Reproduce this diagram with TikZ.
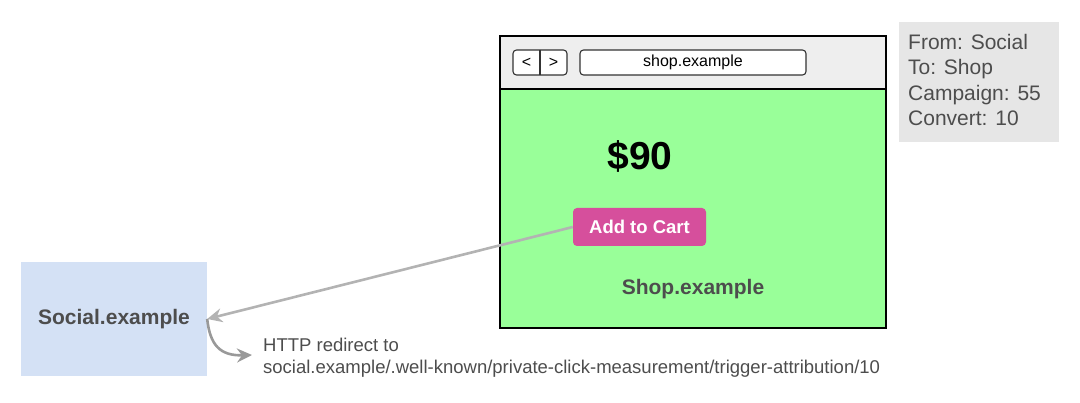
\documentclass[tikz,border=0pt]{standalone}
\usepackage{fontspec}
\setmainfont{Liberation Sans}
\usetikzlibrary{arrows.meta}
\definecolor{txtgrey}{HTML}{4D4D4D}
\definecolor{barfill}{HTML}{EEEEEE}
\definecolor{pagegreen}{HTML}{99FF99}
\definecolor{cartpink}{HTML}{D64F9C}
\definecolor{infogrey}{HTML}{E6E6E6}
\definecolor{socialblue}{HTML}{D4E1F5}
\definecolor{arrowgrey}{HTML}{B3B3B3}
\definecolor{curvegrey}{HTML}{999999}
\begin{document}
\begin{tikzpicture}[x=1pt,y=-1pt,
  boxline/.style={draw=black,line width=1.3pt},
  btn/.style={draw=black!80,line width=1.1pt,rounded corners=3.5pt,fill=white},
  lbl/.style={text=txtgrey,font=\fontsize{21}{25.5}\selectfont\bfseries},
  conn/.style={draw=arrowgrey,line width=2.6pt,-{Stealth[length=15pt,width=14pt,inset=5pt]}},
  curve/.style={draw=curvegrey,line width=2.6pt,-{Stealth[length=15pt,width=14pt,inset=5pt]}}]
\useasboundingbox (0,0) rectangle (1080,403);
% browser window
\fill[barfill] (500,36) rectangle (886,89);
\fill[pagegreen] (500,89) rectangle (886,328);
\draw[boxline] (500,36) rectangle (886,328);
\draw[boxline] (500,89) -- (886,89);
% back / forward buttons
\draw[btn] (513,50) rectangle (567,75);
\draw[draw=black!80,line width=1.1pt] (540,50) -- (540,75);
\node[font=\fontsize{16}{19}\selectfont] (back) at (526.5,62.5) {<};
\node[font=\fontsize{16}{19}\selectfont] (fwd) at (553.5,62.5) {>};
% address bar
\node[btn,minimum width=226pt,minimum height=25pt,inner sep=0pt,font=\fontsize{16}{19}\selectfont] (addr) at (693,62.5) {shop.example};
% page content
\node[font=\fontsize{39}{45}\selectfont\bfseries] (price) at (640,156) {\$90};
\node[fill=cartpink,rounded corners=4pt,minimum width=133pt,minimum height=38pt,inner sep=0pt,text=white,font=\fontsize{18.5}{22}\selectfont\bfseries] (cart) at (639.5,227) {Add to Cart};
\node[lbl] (shop) at (693,289.5) {Shop.example};
% info box
\node[fill=infogrey,minimum width=160pt,minimum height=120pt,inner sep=0pt] (info) at (979,82) {};
\node[anchor=north west,align=left,inner sep=0pt,text=txtgrey,font=\fontsize{21}{25.5}\selectfont] (infotxt) at (908,34) {From: Social\\To: Shop\\Campaign: 55\\Convert: 10};
% social box
\node[fill=socialblue,minimum width=186pt,minimum height=114pt,inner sep=0pt,lbl] (social) at (114,319) {Social.example};
\coordinate (redir) at (252,355);
% connectors
\draw[conn] (cart.west) -- (social.east);
\draw[curve] (social.east) .. controls (210,345) and (220,356) .. (redir);
% redirect text
\node[anchor=west,align=left,inner sep=0pt,text=txtgrey,font=\fontsize{18.5}{22}\selectfont] (redirtxt) at (263,357.5) {HTTP redirect to\\social.example/.well-known/private-click-measurement/trigger-attribution/10};
\end{tikzpicture}
\end{document}
